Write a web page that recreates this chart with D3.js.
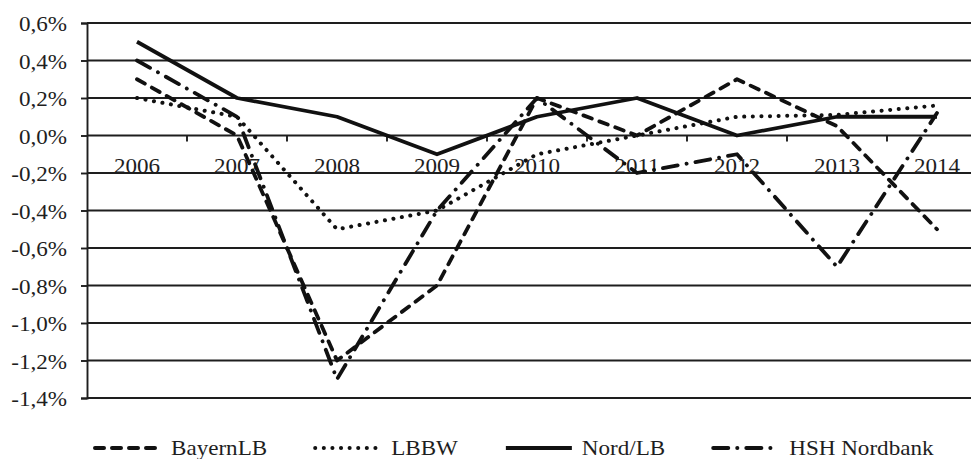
<!DOCTYPE html>
<html>
<head>
<meta charset="utf-8">
<script src="https://cdn.jsdelivr.net/npm/d3@7"></script>
<style>
  html, body { margin: 0; padding: 0; background: #fff; }
  svg { display: block; overflow: hidden; }
</style>
</head>
<body>
<div id="chart"></div>
<script>
// years on the x axis
const years = ["2006", "2007", "2008", "2009", "2010", "2011", "2012", "2013", "2014"];

// values in percent
const bayernLB = [0.3, 0.0, -1.2, -0.8, 0.2, 0.0, 0.3, 0.05, -0.5];
const lbbw     = [0.2, 0.1, -0.5, -0.4, -0.1, 0.0, 0.1, 0.11, 0.16];
const nordLB   = [0.5, 0.2, 0.1, -0.1, 0.1, 0.2, 0.0, 0.1, 0.1];
const hsh      = [0.4, 0.1, -1.3, -0.4, 0.2, -0.2, -0.1, -0.7, 0.12];

const yTicks = [0.6, 0.4, 0.2, 0.0, -0.2, -0.4, -0.6, -0.8, -1.0, -1.2, -1.4];

const seriesNames = ["BayernLB", "LBBW", "Nord/LB", "HSH Nordbank"];
const seriesValues = [bayernLB, lbbw, nordLB, hsh];
const dashes = ["9,8", "0.1,8.5", null, "15,9,0.1,9"];

const width = 971, height = 459,
    plotLeft = 87, plotRight = 987, plotTop = 23, plotBottom = 398,
    stretch = 1.1, // the reference font is a bit wide
    fontFam = "'Liberation Serif', 'Times New Roman', 'DejaVu Serif', serif";

let svg = d3.select("#chart").append("svg")
    .attr("width", width)
    .attr("height", height)
    .attr("font-family", fontFam);

let x = d3.scaleBand()
    .domain(years)
    .range([plotLeft, plotRight])
    .paddingInner(0).paddingOuter(0);
let y = d3.scaleLinear()
    .domain([-1.4, 0.6])
    .range([plotBottom, plotTop]);

const fmt = v => d3.format(".1f")(v).replace("−", "-").replace(".", ",") + "%";

// horizontal gridlines
svg.append("g")
    .selectAll("line")
    .data(yTicks)
    .enter().append("line")
    .attr("x1", plotLeft).attr("x2", width)
    .attr("y1", d => y(d)).attr("y2", d => y(d))
    .attr("stroke", "#1e1e1e")
    .attr("stroke-width", 1.9);

// y axis
let yAxis = svg.append("g")
    .attr("transform", `translate(${plotLeft},0)`)
    .call(d3.axisLeft(y).tickValues(yTicks).tickSize(6).tickFormat(""));
yAxis.select(".domain").attr("stroke", "#1e1e1e").attr("stroke-width", 1.9);
yAxis.selectAll(".tick line").attr("stroke", "#1e1e1e").attr("stroke-width", 1.9);

svg.append("g")
    .selectAll("text")
    .data(yTicks)
    .enter().append("text")
    .attr("transform", d => `translate(67,${y(d) + 8}) scale(${stretch},1)`)
    .attr("text-anchor", "end")
    .attr("font-family", fontFam)
    .attr("font-size", 21)
    .attr("fill", "#1e1e1e")
    .text(d => fmt(d === 0 ? 0 : d));

// category ticks on the zero line
svg.append("g")
    .selectAll("line")
    .data(years.slice(1))
    .enter().append("line")
    .attr("x1", d => x(d)).attr("x2", d => x(d))
    .attr("y1", y(0)).attr("y2", y(0) + 6)
    .attr("stroke", "#1e1e1e")
    .attr("stroke-width", 1.9);

// year labels sit just under the zero line
svg.append("g")
    .selectAll("text")
    .data(years)
    .enter().append("text")
    .attr("transform", d => `translate(${x(d) + x.bandwidth() / 2},${y(0) + 37}) scale(${stretch},1)`)
    .attr("text-anchor", "middle")
    .attr("font-family", fontFam)
    .attr("font-size", 21)
    .attr("fill", "#1e1e1e")
    .text(d => d);

// series lines
let line = d3.line()
    .x((d, i) => x(years[i]) + x.bandwidth() / 2)
    .y(d => y(d));

seriesValues.forEach((vals, i) => {
    svg.append("path")
        .datum(vals)
        .attr("d", line)
        .attr("fill", "none")
        .attr("stroke", "#111")
        .attr("stroke-width", i === 1 ? 4 : 3.8)
        .attr("stroke-linejoin", "round")
        .attr("stroke-linecap", dashes[i] ? "round" : "butt")
        .attr("stroke-dasharray", dashes[i]);
});

// legend
let lx = 95;
const legY = 448;
seriesNames.forEach((name, i) => {
    svg.append("line")
        .attr("x1", lx).attr("x2", lx + 66)
        .attr("y1", legY).attr("y2", legY)
        .attr("stroke", "#111")
        .attr("stroke-width", 4)
        .attr("stroke-linecap", dashes[i] ? "round" : "butt")
        .attr("stroke-dasharray", dashes[i]);
    let t = svg.append("text")
        .attr("transform", `translate(${lx + 76},${legY + 7}) scale(${stretch},1)`)
        .attr("font-family", fontFam)
        .attr("font-size", 21)
        .attr("fill", "#1e1e1e")
        .text(name);
    lx += 76 + t.node().getComputedTextLength() * stretch + 48;
});
</script>
</body>
</html>
